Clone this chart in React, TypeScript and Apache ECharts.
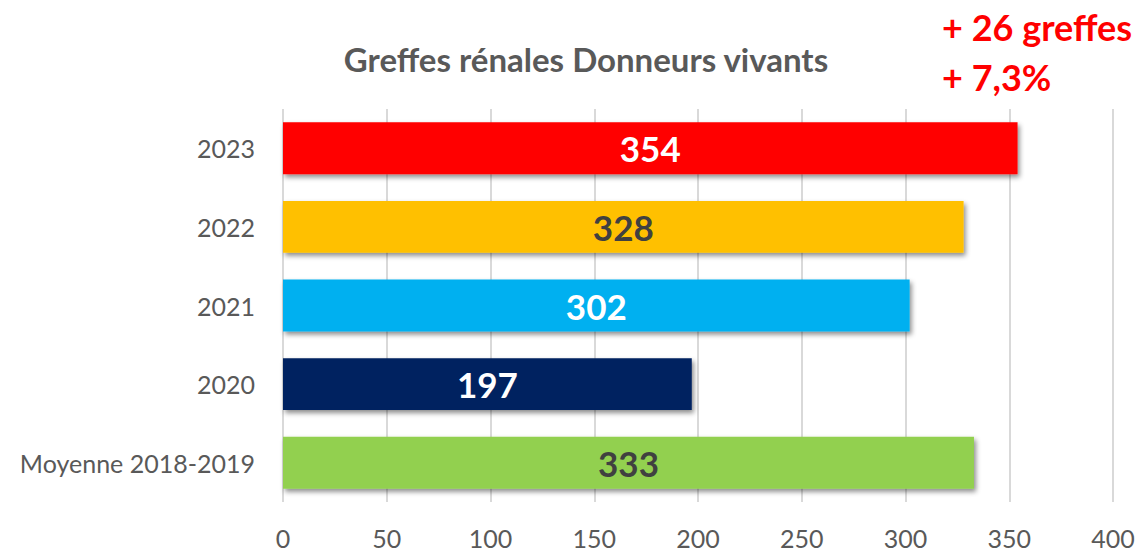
import React, { useEffect, useRef } from "react";
import * as echarts from "echarts";

const categories = ["Moyenne 2018-2019", "2020", "2021", "2022", "2023"];
const values = [333, 197, 302, 328, 354];
const barColors = ["#92D050", "#002060", "#00B0F0", "#FFC000", "#FF0000"];
const labelColors = ["#404040", "#FFFFFF", "#FFFFFF", "#404040", "#FFFFFF"];
const xTicks = [0, 50, 100, 150, 200, 250, 300, 350, 400];
const titleText = "Greffes rénales Donneurs vivants";
const noteLines = ["+ 26 greffes", "+ 7,3%"];

const FONT = "Lato, 'Open Sans', sans-serif";

export default function App() {
  const ref = useRef<HTMLDivElement>(null);
  useEffect(() => {
    if (!ref.current) return;
    const chart = echarts.init(ref.current, undefined, { renderer: "svg" });
    chart.setOption({
      animation: false,
      backgroundColor: "#FFFFFF",
      title: {
        text: titleText,
        left: 581,
        top: 37,
        textAlign: "center",
        textStyle: { fontFamily: FONT, fontSize: 33, fontWeight: "bold", color: "#595959" },
      },
      graphic: [
        {
          type: "text",
          x: 942,
          y: 27,
          style: {
            text: noteLines[0],
            fill: "#FF0000",
            font: `bold 36px ${FONT}`,
            verticalAlign: "middle",
          },
        },
        {
          type: "text",
          x: 942,
          y: 77,
          style: {
            text: noteLines[1],
            fill: "#FF0000",
            font: `bold 36px ${FONT}`,
            verticalAlign: "middle",
          },
        },
      ],
      grid: { left: 283, right: 35, top: 109, bottom: 49, containLabel: false },
      xAxis: {
        type: "value",
        min: xTicks[0],
        max: xTicks[xTicks.length - 1],
        interval: xTicks[1] - xTicks[0],
        axisLine: { show: false },
        axisTick: { show: false },
        splitLine: { show: true, lineStyle: { color: "#D9D9D9", width: 2 } },
        axisLabel: { color: "#595959", fontFamily: FONT, fontSize: 25, margin: 23 },
      },
      yAxis: {
        type: "category",
        data: categories,
        axisLine: { show: false },
        axisTick: { show: false },
        axisLabel: { color: "#595959", fontFamily: FONT, fontSize: 25, margin: 28 },
      },
      series: [
        {
          type: "bar",
          barCategoryGap: "34%",
          data: values.map((v, i) => ({
            value: v,
            itemStyle: {
              color: barColors[i],
              shadowColor: "rgba(0,0,0,0.45)",
              shadowBlur: 5,
              shadowOffsetX: 2,
              shadowOffsetY: 3,
            },
            label: { color: labelColors[i] },
          })),
          label: {
            show: true,
            position: "inside",
            fontFamily: FONT,
            fontSize: 35,
            fontWeight: "bold",
          },
        },
      ],
    });
    return () => chart.dispose();
  }, []);
  return <div ref={ref} style={{ position: "absolute", left: 0, top: 0, width: 1148, height: 551 }} />;
}
